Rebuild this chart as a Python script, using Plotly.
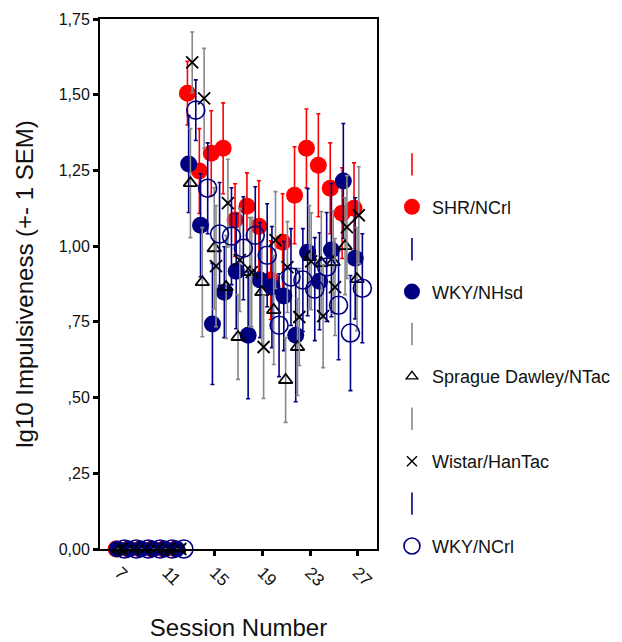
import plotly.graph_objects as go

sessions = list(range(7, 28))

shr_mean = [0]*6 + [1.505, 1.248, 1.307, 1.323, 1.086, 1.132, 1.066, 0.888, 1.013, 1.168, 1.323, 1.267, 1.191, 1.109, 1.125]
shr_sem = [0]*6 + [0.105, 0.14, 0.14, 0.15, 0.12, 0.11, 0.15, 0.13, 0.16, 0.16, 0.13, 0.17, 0.15, 0.15, 0.15]

wkyh_mean = [0]*6 + [1.271, 1.069, 0.743, 0.848, 0.917, 0.706, 0.888, 0.865, 0.835, 0.706, 0.980, 0.884, 0.987, 1.215, 0.960]
wkyh_sem = [0]*6 + [0.16, 0.17, 0.20, 0.15, 0.19, 0.21, 0.19, 0.20, 0.18, 0.22, 0.21, 0.16, 0.22, 0.19, 0.20]

sd_mean = [0]*6 + [1.208, 0.881, 0.993, 0.865, 0.700, 0.914, 0.848, 0.789, 0.558, 0.667, 0.964, 0.944, 0.947, 1.000, 0.891]
sd_sem = [0]*6 + [0.18, 0.18, 0.20, 0.17, 0.14, 0.18, 0.17, 0.18, 0.14, 0.16, 0.17, 0.17, 0.17, 0.16, 0.17]

wis_mean = [0]*6 + [1.607, 1.488, 0.934, 1.142, 0.954, 0.914, 0.667, 1.020, 0.931, 0.766, 0.950, 0.769, 0.865, 1.063, 1.102]
wis_sem = [0]*6 + [0.10, 0.165, 0.20, 0.145, 0.17, 0.18, 0.17, 0.16, 0.15, 0.16, 0.16, 0.17, 0.16, 0.17, 0.16]

wkyn_mean = [0]*6 + [1.449, 1.191, 1.040, 1.033, 0.993, 1.036, 0.970, 0.739, 0.898, 0.888, 0.858, 0.931, 0.805, 0.713, 0.861]
wkyn_sem = [0]*6 + [0.10, 0.15, 0.17, 0.16, 0.17, 0.16, 0.17, 0.17, 0.16, 0.17, 0.17, 0.18, 0.18, 0.19, 0.18]

series_names = ["SHR/NCrl", "WKY/NHsd", "Sprague Dawley/NTac", "Wistar/HanTac", "WKY/NCrl"]
x_ticks = [7, 11, 15, 19, 23, 27]
y_ticks = [0, 0.25, 0.5, 0.75, 1.0, 1.25, 1.5, 1.75]
y_ticktext = ["0,00", ",25", ",50", ",75", "1,00", "1,25", "1,50", "1,75"]

RED = "#ff0000"
NAVY = "#000080"
GRAY = "#888888"
BLACK = "#000000"

specs = [
    (shr_mean, shr_sem, -0.30, dict(symbol="circle", size=17, color=RED, line=dict(width=0)), RED),
    (wkyh_mean, wkyh_sem, -0.20, dict(symbol="circle", size=17, color=NAVY, line=dict(width=0)), NAVY),
    (sd_mean, sd_sem, -0.05, dict(symbol="triangle-up-open", size=12, color=BLACK, line=dict(width=1.8, color=BLACK)), GRAY),
    (wis_mean, wis_sem, 0.10, dict(symbol="x-thin-open", size=12, color=BLACK, line=dict(width=1.8, color=BLACK)), GRAY),
    (wkyn_mean, wkyn_sem, 0.40, dict(symbol="circle-open", size=18, color=NAVY, line=dict(width=1.6, color=NAVY)), NAVY),
]

fig = go.Figure()

for (mean, sem, off, mk, ecol), name in zip(specs, series_names):
    fig.add_trace(go.Scatter(
        x=[s + off for s in sessions], y=mean, mode="markers",
        marker=mk, showlegend=False, cliponaxis=False,
        error_y=dict(type="data", array=sem, visible=True, color=ecol, thickness=1.6, width=2),
    ))

# legend entries: error-bar icon then marker, for each series
for i, ((mean, sem, off, mk, ecol), name) in enumerate(zip(specs, series_names)):
    fig.add_trace(go.Scatter(
        x=[None], y=[None], mode="markers", name="",
        marker=dict(symbol="line-ns-open", size=20, color=ecol, line=dict(width=1.6, color=ecol)),
        legendgroup=f"e{i}", showlegend=True,
    ))
    lm = dict(mk)
    if mk["symbol"] in ("triangle-up-open", "x-thin-open"):
        lm["size"] = 10
        lm["line"] = dict(width=1.4, color=BLACK)
    fig.add_trace(go.Scatter(
        x=[None], y=[None], mode="markers", name=name,
        marker=lm, legendgroup=f"m{i}", showlegend=True,
    ))

fig.update_layout(
    width=622, height=642,
    margin=dict(l=92, r=253, t=11, b=101),
    plot_bgcolor="white", paper_bgcolor="white",
    font=dict(family="Liberation Sans, Arial, sans-serif", size=15, color="#111111"),
    legend=dict(x=1.054, y=0.76, xanchor="left", yanchor="top",
                tracegroupgap=16, traceorder="grouped",
                font=dict(size=18), itemsizing="trace", bgcolor="rgba(0,0,0,0)"),
    xaxis=dict(range=[5.35, 28.63], tickvals=x_ticks, ticktext=[str(t) for t in x_ticks],
               tickangle=45, ticks="outside", ticklen=5, tickwidth=3, tickcolor=BLACK,
               showline=True, linecolor=BLACK, linewidth=2, mirror=True, showgrid=False, zeroline=False,
               tickfont=dict(size=17), automargin=False,
               title=dict(text="Session Number", font=dict(size=24), standoff=30)),
    yaxis=dict(range=[0, 1.75], tickvals=y_ticks, ticktext=y_ticktext,
               ticks="outside", ticklen=5, tickwidth=3, tickcolor=BLACK,
               showline=True, linecolor=BLACK, linewidth=2, mirror=True, showgrid=False, zeroline=False,
               tickfont=dict(size=16), automargin=False,
               title=dict(text="lg10 Impulsiveness (+- 1 SEM)", font=dict(size=24), standoff=18)),
)

fig.write_html("out.html")
